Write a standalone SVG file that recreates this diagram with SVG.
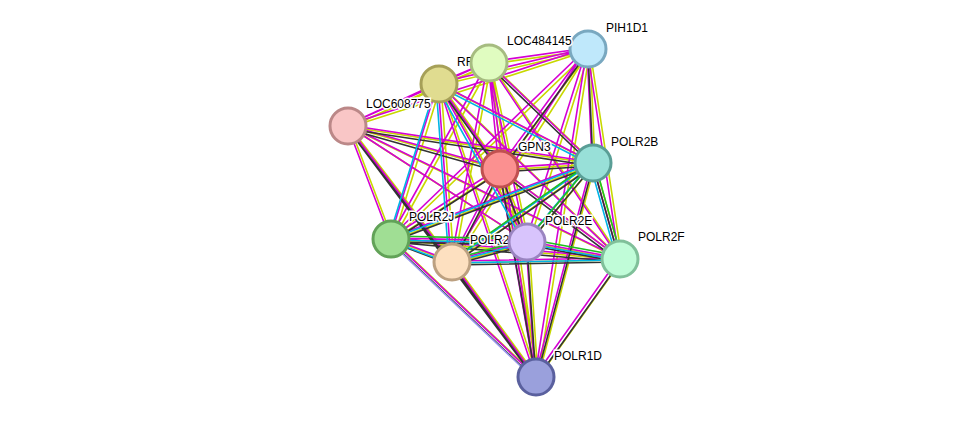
<svg xmlns="http://www.w3.org/2000/svg" width="975" height="423" viewBox="0 0 975 423">
<style>
.e{fill:none;stroke-width:1.6}
.n{stroke-width:3}
text{font-family:"Liberation Sans",Arial,sans-serif;font-size:12px;fill:#000;stroke:#fff;stroke-width:3;paint-order:stroke}
</style>
<rect width="975" height="423" fill="#fff"/>
<g id="connectors">
<path class="e" stroke="#c8d800" transform="translate(2,1)" d="M588 49L489 63M588 49L439 84M588 49L348 126M588 49L500 169M588 49L593 163M588 49L391 239M588 49L452 262M588 49L527 242M588 49L620 259M588 49L536 377M489 63L439 84M489 63L348 126M489 63L500 169M489 63L593 163M489 63L391 239M489 63L452 262M489 63L527 242M489 63L620 259M489 63L536 377M439 84L348 126M439 84L500 169M439 84L593 163M439 84L391 239M439 84L452 262M439 84L527 242M439 84L620 259M439 84L536 377M348 126L500 169M348 126L593 163M348 126L391 239M348 126L452 262M348 126L527 242M348 126L620 259M348 126L536 377M500 169L593 163M500 169L391 239M500 169L452 262M500 169L527 242M500 169L620 259M500 169L536 377M593 163L391 239M593 163L452 262M593 163L527 242M593 163L620 259M593 163L536 377M391 239L452 262M391 239L527 242M391 239L620 259M391 239L536 377M452 262L527 242M452 262L620 259M452 262L536 377M527 242L620 259M527 242L536 377M620 259L536 377"/>
<path class="e" stroke="#d400d4" transform="translate(-1,-1)" d="M588 49L489 63M588 49L439 84M588 49L348 126M588 49L500 169M588 49L593 163M588 49L391 239M588 49L452 262M588 49L527 242M588 49L620 259M588 49L536 377M489 63L439 84M489 63L348 126M489 63L500 169M489 63L593 163M489 63L391 239M489 63L452 262M489 63L527 242M489 63L620 259M489 63L536 377M439 84L348 126M439 84L500 169M439 84L593 163M439 84L391 239M439 84L452 262M439 84L527 242M439 84L620 259M439 84L536 377M348 126L500 169M348 126L593 163M348 126L391 239M348 126L452 262M348 126L527 242M348 126L620 259M348 126L536 377M500 169L593 163M500 169L391 239M500 169L452 262M500 169L527 242M500 169L620 259M500 169L536 377M593 163L391 239M593 163L452 262M593 163L527 242M593 163L620 259M593 163L536 377M391 239L452 262M391 239L527 242M391 239L620 259M391 239L536 377M452 262L527 242M452 262L620 259M452 262L536 377M527 242L620 259M527 242L536 377M620 259L536 377"/>
<path class="e" stroke="#333" transform="translate(0,3)" d="M588 49L500 169M588 49L593 163M489 63L593 163M439 84L500 169M348 126L500 169M348 126L593 163M348 126L452 262M348 126L536 377M500 169L593 163M500 169L391 239M500 169L452 262M500 169L527 242M500 169L620 259M500 169L536 377M593 163L391 239M593 163L452 262M593 163L527 242M593 163L620 259M593 163L536 377M391 239L452 262M391 239L527 242M391 239L620 259M391 239L536 377M452 262L527 242M452 262L620 259M452 262L536 377M527 242L620 259M527 242L536 377M620 259L536 377"/>
<path class="e" stroke="#00b4e6" transform="translate(-3,1)" d="M439 84L391 239M439 84L452 262M439 84L527 242M439 84L593 163M593 163L391 239M593 163L452 262M593 163L527 242M593 163L620 259M391 239L452 262M391 239L527 242M452 262L527 242M452 262L620 259M527 242L620 259"/>
<path class="e" stroke="#20c020" transform="translate(1,-3)" d="M593 163L620 259M527 242L620 259M593 163L527 242M452 262L527 242M391 239L527 242M593 163L452 262"/>
<path class="e" stroke="#9999ee" transform="translate(-2,2)" d="M391 239L536 377"/>
</g>
<g id="labels-under">
<text x="457" y="66">RF</text>
<text x="470" y="244">POLR2</text>
</g>
<g id="PIH1D1"><circle class="n" cx="588" cy="49" r="18" fill="#bfe8fb" stroke="#79a8c0"/><text x="606" y="32">PIH1D1</text></g>
<g id="LOC484145"><text x="507" y="45">LOC484145</text><circle class="n" cx="489" cy="63" r="18" fill="#e0fcc0" stroke="#a6bc80"/></g>
<g id="RF"><circle class="n" cx="439" cy="84" r="18" fill="#e0dc90" stroke="#a6a058"/></g>
<g id="LOC608775"><circle class="n" cx="348" cy="126" r="18" fill="#f9c6c6" stroke="#bb8888"/><text x="366" y="108">LOC608775</text></g>
<g id="GPN3"><circle class="n" cx="500" cy="169" r="18" fill="#fb9090" stroke="#c05050"/><text x="518" y="151">GPN3</text></g>
<g id="POLR2B"><circle class="n" cx="593" cy="163" r="18" fill="#98e0d8" stroke="#5a9e96"/><text x="611" y="146">POLR2B</text></g>
<g id="POLR2J"><circle class="n" cx="391" cy="239" r="18" fill="#a0de94" stroke="#62a258"/><text x="409" y="221">POLR2J</text></g>
<g id="POLR2x"><circle class="n" cx="452" cy="262" r="18" fill="#fde0c0" stroke="#bca080"/></g>
<g id="POLR2E"><circle class="n" cx="527" cy="242" r="18" fill="#d8c4fc" stroke="#9a84c0"/><text x="545" y="225">POLR2E</text></g>
<g id="POLR2F"><circle class="n" cx="620" cy="259" r="18" fill="#c0fcd8" stroke="#80c09a"/><text x="638" y="241">POLR2F</text></g>
<g id="POLR1D"><circle class="n" cx="536" cy="377" r="18" fill="#9aa0dc" stroke="#5a609e"/><text x="554" y="360">POLR1D</text></g>
</svg>
